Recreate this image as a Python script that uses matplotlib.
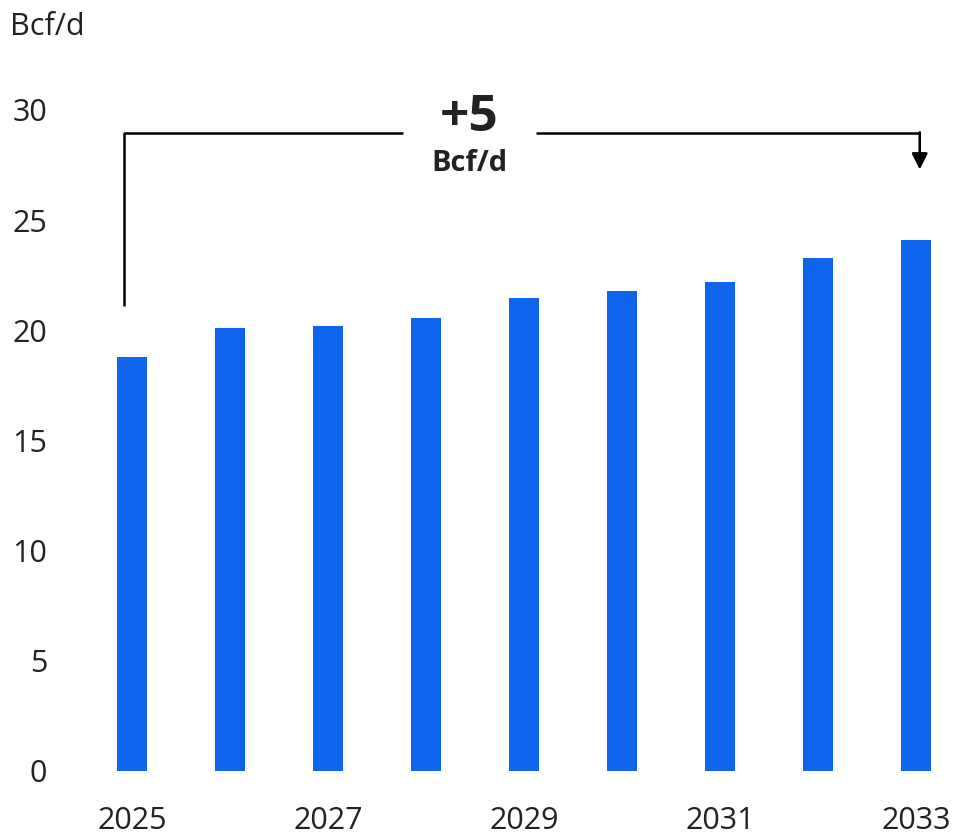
import numpy as np
import matplotlib.pyplot as plt

plt.rcParams['font.family'] = ['Open Sans', 'DejaVu Sans']

# Datos
anios = np.array([2025, 2026, 2027, 2028, 2029, 2030, 2031, 2032, 2033])
valores = np.array([18.8, 20.1, 20.2, 20.55, 21.45, 21.8, 22.2, 23.3, 24.1])
xticks = [2025, 2027, 2029, 2031, 2033]
yticks = [0, 5, 10, 15, 20, 25, 30]

color_barra = '#0F64EE'
color_texto = '#222222'

fig = plt.figure(figsize=(9.56, 8.35), dpi=100)
W, H = 956, 835
ax = fig.add_axes([93 / W, (H - 771) / H, (955 - 93) / W, (771 - 110) / H])

ax.bar(anios, valores, width=0.31, color=color_barra)

ax.set_xlim(2024.6, 2033.4)
ax.set_ylim(0, 30)
ax.set_xticks(xticks)
ax.set_yticks(yticks)
ax.tick_params(axis='y', length=0, pad=33, labelsize=22, labelcolor=color_texto)
ax.tick_params(axis='x', length=0, pad=25, labelsize=22, labelcolor=color_texto)
for lbl in ax.get_yticklabels():
    lbl.set_horizontalalignment('right')
for s in ax.spines.values():
    s.set_visible(False)

fig.text(10 / W, 1 - 27 / H, 'Bcf/d', fontsize=22, color=color_texto,
         ha='left', va='center')

# Corchete con flecha
y_linea = 28.95
x0 = anios[0] - 0.08
x1 = anios[-1] + 0.04
gap_izq, gap_der = 2027.76, 2029.12
kw = dict(color='black', lw=1.8, clip_on=False, solid_capstyle='butt')
ax.plot([x0, x0, gap_izq], [valores[0] + 2.3, y_linea, y_linea], **kw)
ax.plot([gap_der, x1], [y_linea, y_linea], **kw)
ax.annotate('', xy=(x1, valores[-1] + 3.2), xytext=(x1, y_linea + 0.04),
            arrowprops=dict(arrowstyle='-|>', color='black', lw=1.8,
                            mutation_scale=24, shrinkA=0, shrinkB=0),
            annotation_clip=False)

x_texto = 2028.44
ax.text(x_texto, 29.65, '+5', fontsize=37, fontweight='bold', color=color_texto,
        ha='center', va='center', clip_on=False)
ax.text(x_texto, 27.55, 'Bcf/d', fontsize=21, fontweight='bold', color=color_texto,
        ha='center', va='center', clip_on=False)

plt.savefig('out.png', dpi=100)
